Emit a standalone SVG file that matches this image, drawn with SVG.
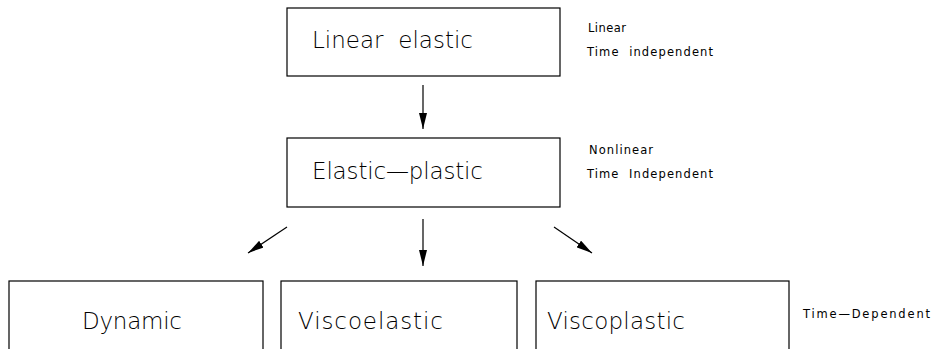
<svg xmlns="http://www.w3.org/2000/svg" width="936" height="349" viewBox="0 0 936 349">
<defs>
<marker id="ah" viewBox="0 0 16 8" refX="16" refY="4" markerWidth="16" markerHeight="8" markerUnits="userSpaceOnUse" orient="auto"><path d="M0,0 L16,4 L0,8 Z" fill="#000"/></marker>
<style>
.box{fill:#fff;stroke:#000;stroke-width:1.2}
.big{font-family:"DejaVu Sans","Liberation Sans",sans-serif;font-weight:200;font-size:23px;fill:#000;white-space:pre}
.small{font-family:"DejaVu Sans","Liberation Sans",sans-serif;font-weight:400;font-size:11.5px;fill:#000;white-space:pre}
.arr{stroke:#000;stroke-width:1.2;fill:none;marker-end:url(#ah)}
</style>
</defs>
<g id="connectors">
<line class="arr" x1="423" y1="85" x2="423" y2="129"/>
<line class="arr" x1="287" y1="227" x2="248" y2="253"/>
<line class="arr" x1="423" y1="219" x2="423" y2="266"/>
<line class="arr" x1="554" y1="227" x2="592" y2="253"/>
</g>
<g id="linear-elastic">
<rect class="box" x="287" y="8" width="273" height="68"/>
<text class="big" x="312" y="48" textLength="161" lengthAdjust="spacing">Linear  elastic</text>
</g>
<g id="note-linear">
<text class="small" x="588" y="32" textLength="38" lengthAdjust="spacing">Linear</text>
<text class="small" x="587" y="56" textLength="126" lengthAdjust="spacing">Time  independent</text>
</g>
<g id="elastic-plastic">
<rect class="box" x="287" y="138" width="273" height="69"/>
<text class="big" x="312" y="179" textLength="171" lengthAdjust="spacing">Elastic—plastic</text>
</g>
<g id="note-nonlinear">
<text class="small" x="589" y="154" textLength="64" lengthAdjust="spacing">Nonlinear</text>
<text class="small" x="587" y="178" textLength="126" lengthAdjust="spacing">Time  Independent</text>
</g>
<g id="dynamic">
<rect class="box" x="9" y="281" width="254" height="100"/>
<text class="big" x="82" y="329" textLength="100" lengthAdjust="spacing">Dynamic</text>
</g>
<g id="viscoelastic">
<rect class="box" x="281" y="281" width="236" height="100"/>
<text class="big" x="298" y="329" textLength="145" lengthAdjust="spacing">Viscoelastic</text>
</g>
<g id="viscoplastic">
<rect class="box" x="536" y="281" width="253" height="100"/>
<text class="big" x="547" y="329" textLength="138" lengthAdjust="spacing">Viscoplastic</text>
</g>
<g id="note-time-dependent">
<text class="small" x="803" y="318" textLength="127" lengthAdjust="spacing">Time—Dependent</text>
</g>
</svg>
